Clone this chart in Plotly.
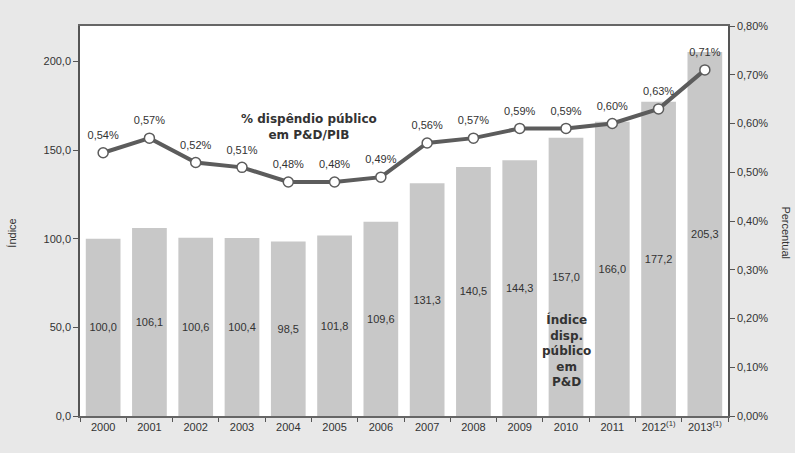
import plotly.graph_objects as go

years = ["2000", "2001", "2002", "2003", "2004", "2005", "2006", "2007",
         "2008", "2009", "2010", "2011", "2012<sup>(1)</sup>", "2013<sup>(1)</sup>"]
indice = [100.0, 106.1, 100.6, 100.4, 98.5, 101.8, 109.6, 131.3,
          140.5, 144.3, 157.0, 166.0, 177.2, 205.3]
pct_pib = [0.0054, 0.0057, 0.0052, 0.0051, 0.0048, 0.0048, 0.0049, 0.0056,
           0.0057, 0.0059, 0.0059, 0.0060, 0.0063, 0.0071]

txt = "#333333"
font_main = "Liberation Sans, Arial, sans-serif"
font_bold = "DejaVu Sans, Verdana, sans-serif"

fig = go.Figure()
fig.add_trace(go.Bar(
    x=years, y=indice, marker_color="#c8c8c8", marker_line_width=0,
    texttemplate="%{y:.1f}", textposition="inside", insidetextanchor="middle",
    textangle=0, textfont=dict(color=txt, size=11, family=font_main),
    showlegend=False, hoverinfo="skip"))
fig.add_trace(go.Scatter(
    x=years, y=pct_pib, yaxis="y2", mode="lines+markers",
    line=dict(color="#5c5c5c", width=4),
    marker=dict(size=10, color="white", line=dict(color="#5c5c5c", width=1.5)),
    showlegend=False, cliponaxis=False))
fig.add_trace(go.Scatter(
    x=years, y=pct_pib, yaxis="y2", mode="markers+text",
    marker=dict(size=16, opacity=0),
    texttemplate="%{y:.2%}", textposition="top center",
    textfont=dict(color=txt, size=11, family=font_main),
    showlegend=False, cliponaxis=False, hoverinfo="skip"))

fig.update_layout(
    width=795, height=453,
    margin=dict(l=80, r=67, t=26, b=37),
    paper_bgcolor="#e8e8e8", plot_bgcolor="white",
    separators=",.",
    bargap=0.25,
    font=dict(family=font_main, size=11, color=txt),
    xaxis=dict(range=[-0.5, 13.5], showline=True, linecolor="#666", linewidth=1.5, mirror=True,
               ticks="outside", tickson="boundaries", ticklen=4, tickcolor="#555",
               tickfont=dict(size=11, color=txt), showgrid=False),
    yaxis=dict(range=[0, 220], dtick=50, tickformat=".1f", showgrid=False,
               showline=True, linecolor="#555", linewidth=1.5,
               ticks="outside", ticklen=5, tickcolor="#555",
               tickfont=dict(size=11, color=txt), zeroline=False),
    yaxis2=dict(range=[0, 0.008], dtick=0.001, tickformat=".2%", overlaying="y",
                side="right", showgrid=False, showline=True, linecolor="#555",
                linewidth=1.5, ticks="outside", ticklen=5, tickcolor="#555",
                tickfont=dict(size=11, color=txt), zeroline=False),
    annotations=[
        dict(text="<b>% dispêndio público<br>em P&D/PIB</b>", xref="paper", yref="paper",
             x=0.353, y=0.785, showarrow=False,
             font=dict(family=font_bold, size=12, color=txt)),
        dict(text="<b>Índice<br>disp.<br>público<br>em<br>P&D</b>", xref="x", yref="y",
             x=10, y=37, showarrow=False,
             font=dict(family=font_bold, size=12, color=txt)),
        dict(text="Índice", xref="paper", yref="paper", x=-0.105, y=0.47,
             xanchor="center", yanchor="middle", textangle=-90, showarrow=False,
             font=dict(size=11, color=txt)),
        dict(text="Percentual", xref="paper", yref="paper", x=1.09, y=0.47,
             xanchor="center", yanchor="middle", textangle=90, showarrow=False,
             font=dict(size=11, color=txt)),
    ],
)

fig.write_html("out.html")
